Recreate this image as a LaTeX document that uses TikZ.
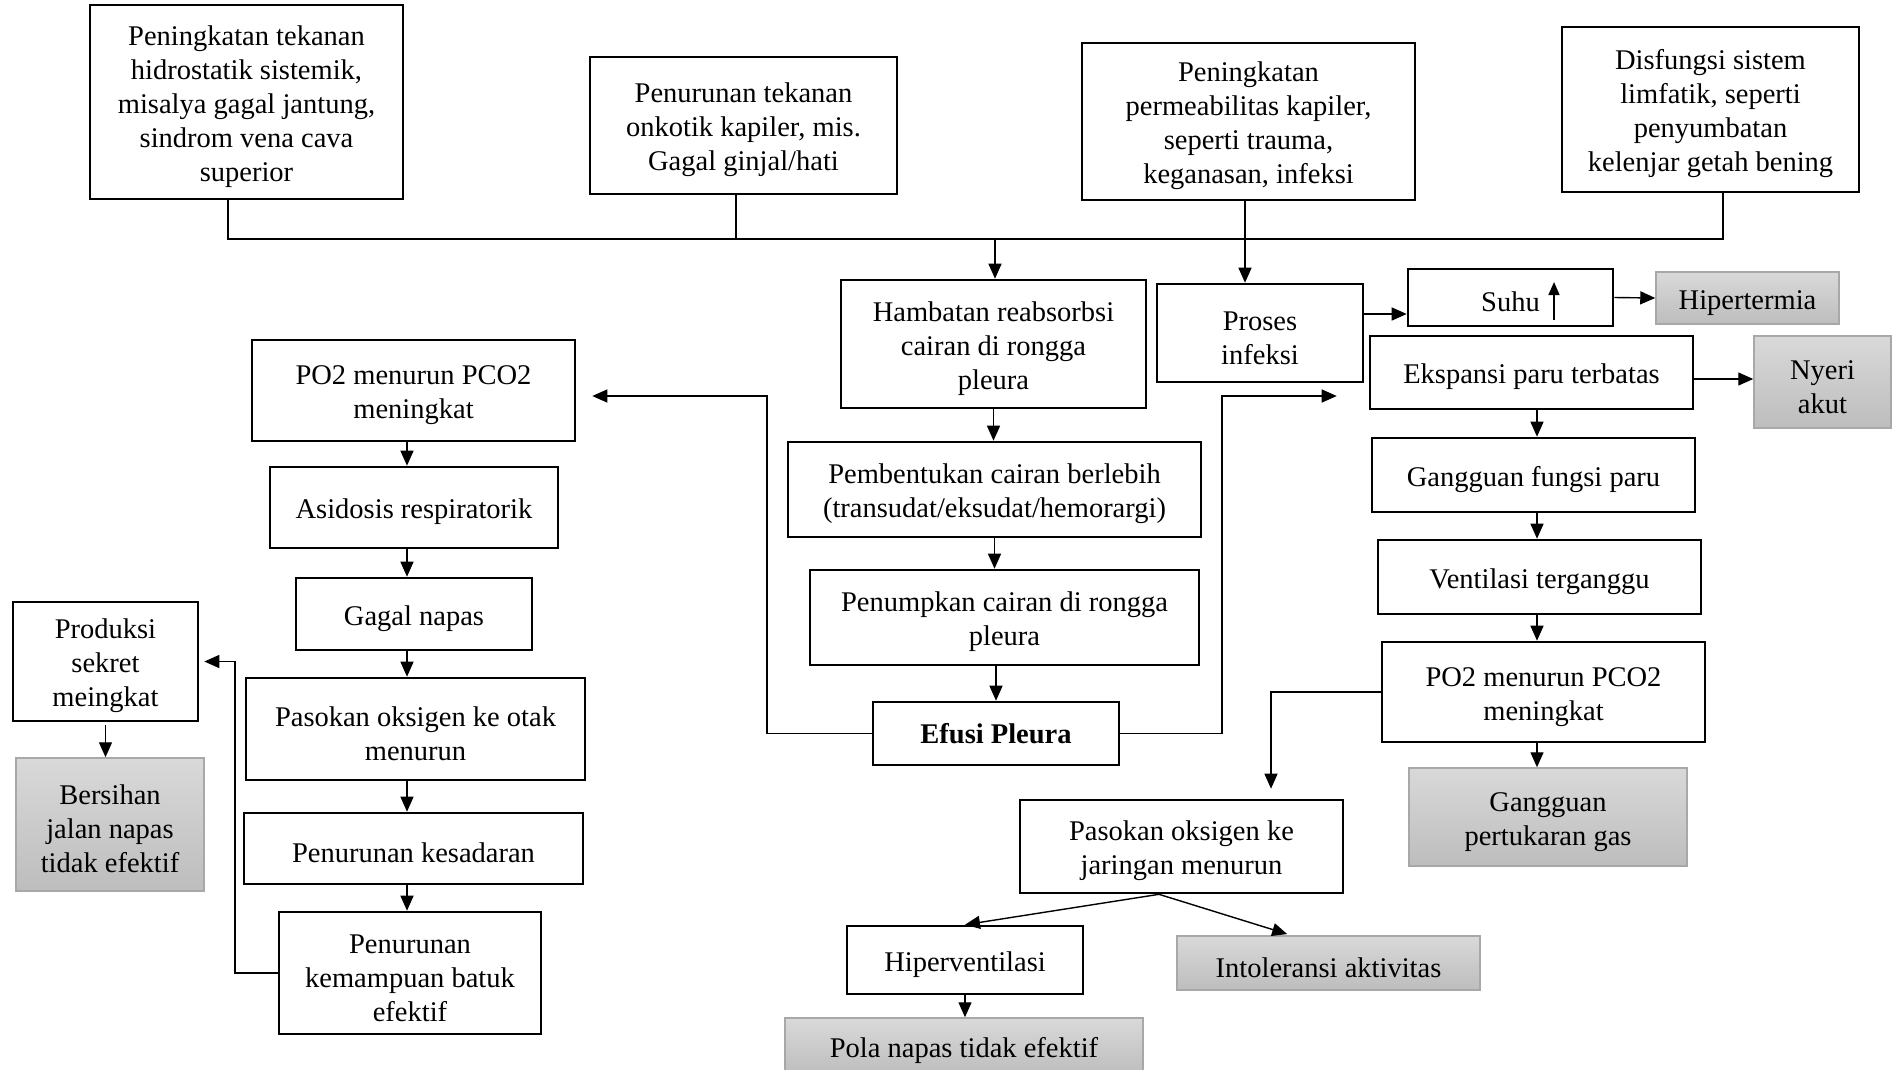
\documentclass[tikz,border=0pt]{standalone}
\usepackage{fontspec}
\setmainfont{Liberation Serif}
\usetikzlibrary{arrows.meta}
\definecolor{gtop}{HTML}{D9D9D9}
\definecolor{gbot}{HTML}{BDBDBD}
\definecolor{gbrd}{HTML}{A8A8A8}
\newcommand{\Tst}{\rule{0pt}{28.5pt}}
\begin{document}
\begin{tikzpicture}[x=1pt,y=-1pt,
  every node/.style={font=\fontsize{28.5}{34}\selectfont},
  box/.style={draw=black, line width=2.6pt, inner sep=0pt, align=center, fill=white},
  gbox/.style={draw=gbrd, line width=1.5pt, inner sep=0pt, align=center, top color=gtop, bottom color=gbot},
  ln/.style={line width=1.4pt},
  arr/.style={line width=1.4pt, -{Triangle[length=15pt,width=13pt]}}]
\useasboundingbox (0,0) rectangle (1892,1069);

% top causes
\node[box, minimum width=313pt, minimum height=194pt] (b1) at (246.5,102) {\Tst Peningkatan tekanan\\hidrostatik sistemik,\\misalya gagal jantung,\\sindrom vena cava\\superior};
\node[box, minimum width=307pt, minimum height=137pt] (b2) at (743.5,125.5) {\Tst Penurunan tekanan\\onkotik kapiler, mis.\\Gagal ginjal/hati};
\node[box, minimum width=333pt, minimum height=157pt] (b3) at (1248.5,121.5) {\Tst Peningkatan\\permeabilitas kapiler,\\seperti trauma,\\keganasan, infeksi};
\node[box, minimum width=297pt, minimum height=165pt] (b4) at (1710.5,109.5) {\Tst Disfungsi sistem\\limfatik, seperti\\penyumbatan\\kelenjar getah bening};

% center column
\node[box, minimum width=305pt, minimum height=128pt] (hamb) at (993.5,344) {\Tst Hambatan reabsorbsi\\cairan di rongga\\pleura};
\node[box, minimum width=413pt, minimum height=95pt] (pemb) at (994.5,489.5) {\Tst Pembentukan cairan berlebih\\(transudat/eksudat/hemorargi)};
\node[box, minimum width=389pt, minimum height=95pt] (penum) at (1004.5,617.5) {\Tst Penumpkan cairan di rongga\\pleura};
\node[box, minimum width=246pt, minimum height=63pt] (efusi) at (996,733.5) {\textbf{Efusi Pleura}};

% right column
\node[box, minimum width=206pt, minimum height=98pt] (proses) at (1260,333) {\Tst Proses\\infeksi};
\node[box, minimum width=205pt, minimum height=57pt] (suhu) at (1510.5,297.5) {\Tst Suhu};
\node[gbox, minimum width=183pt, minimum height=52pt] (hiper) at (1747.5,298) {\Tst Hipertermia};
\node[box, minimum width=323pt, minimum height=73pt] (eksp) at (1531.5,372.5) {\Tst Ekspansi paru terbatas};
\node[gbox, minimum width=137pt, minimum height=92pt] (nyeri) at (1822.5,382) {\Tst Nyeri\\akut};
\node[box, minimum width=323pt, minimum height=74pt] (gfp) at (1533.5,475) {\Tst Gangguan fungsi paru};
\node[box, minimum width=323pt, minimum height=74pt] (vent) at (1539.5,577) {\Tst Ventilasi terganggu};
\node[box, minimum width=323pt, minimum height=100pt] (po2R) at (1543.5,692) {\Tst PO2 menurun PCO2\\meningkat};
\node[gbox, minimum width=278pt, minimum height=98pt] (gpg) at (1548,817) {\Tst Gangguan\\pertukaran gas};
\node[box, minimum width=323pt, minimum height=93pt] (jar) at (1181.5,846.5) {\Tst Pasokan oksigen ke\\jaringan menurun};
\node[box, minimum width=236pt, minimum height=68pt] (hvent) at (965,960) {\Tst Hiperventilasi};
\node[gbox, minimum width=303pt, minimum height=54pt] (intol) at (1328.5,963) {\Tst Intoleransi aktivitas};
\node[gbox, minimum width=358pt, minimum height=57pt] (pola) at (964,1046.5) {\Tst Pola napas tidak efektif};

% left column
\node[box, minimum width=323pt, minimum height=101pt] (po2L) at (413.5,390.5) {\Tst PO2 menurun PCO2\\meningkat};
\node[box, minimum width=288pt, minimum height=81pt] (asid) at (414,507.5) {\Tst Asidosis respiratorik};
\node[box, minimum width=236pt, minimum height=72pt] (gagal) at (414,614) {\Tst Gagal napas};
\node[box, minimum width=339pt, minimum height=102pt] (otak) at (415.5,729) {\Tst Pasokan oksigen ke otak\\menurun};
\node[box, minimum width=339pt, minimum height=71pt] (kesad) at (413.5,848.5) {\Tst Penurunan kesadaran};
\node[box, minimum width=262pt, minimum height=122pt] (batuk) at (410,973) {\Tst Penurunan\\kemampuan batuk\\efektif};
\node[box, minimum width=185pt, minimum height=119pt] (sekret) at (105.5,661.5) {\Tst Produksi\\sekret\\meingkat};
\node[gbox, minimum width=188pt, minimum height=133pt] (bersih) at (110,824.5) {\Tst Bersihan\\jalan napas\\tidak efektif};

% helper coordinates
\coordinate (busL) at (228,239);
\coordinate (busR) at (1723,239);
\coordinate (busA) at (736,239);
\coordinate (busH) at (995,239);
\coordinate (x3) at (1245,0);
\coordinate (y314) at (0,314);
\coordinate (y379) at (0,379);
\coordinate (xL) at (767,396);
\coordinate (xR) at (1222,396);
\coordinate (xc) at (407,0);
\coordinate (xB) at (235,0);
\coordinate (xr) at (1537,0);
\coordinate (xJ) at (1271,0);
\coordinate (xI) at (1291,0);
\coordinate (jb) at ([xshift=-22.5pt]jar.south);

% bus
\draw[ln] (b1.south -| busL) -- (busL) -- (busR) -- (b4.south -| busR);
\draw[ln] (b2.south -| busA) -- (busA);
\draw[arr] (busH) -- (hamb.north -| busH);
\draw[arr] (b3.south -| x3) -- (proses.north -| x3);

% suhu arrow glyph
\draw[line width=1.4pt, -{Triangle[length=13pt,width=11pt]}] ([xshift=43.5pt,yshift=-22.5pt]suhu.center) -- ++(0,-38);

% right top
\draw[arr] (proses.east |- y314) -- (suhu.west |- y314);
\draw[arr] (suhu.east) -- (hiper.west);
\draw[arr] (eksp.east |- y379) -- (nyeri.west |- y379);

% center chain
\draw[arr] (hamb.south) -- (pemb.north -| hamb.south);
\draw[arr] (pemb.south) -- (penum.north -| pemb.south);
\draw[arr] (penum.south -| efusi.north) -- (efusi.north);
\draw[arr, shorten >=16pt] (efusi.west) -| (xL) -- (po2L.east |- xL);
\draw[arr, shorten >=32pt] (efusi.east) -| (xR) -- (eksp.west |- xR);

% left chain
\draw[arr] (po2L.south -| xc) -- (asid.north -| xc);
\draw[arr] (asid.south -| xc) -- (gagal.north -| xc);
\draw[arr] (gagal.south -| xc) -- (otak.north -| xc);
\draw[arr] (otak.south -| xc) -- (kesad.north -| xc);
\draw[arr] (kesad.south -| xc) -- (batuk.north -| xc);
\draw[arr, shorten >=5pt] (batuk.west) -- (batuk.west -| xB) |- (sekret.east);
\draw[arr, shorten <=3pt] (sekret.south) -- (bersih.north -| sekret.south);

% right chain
\draw[arr] (eksp.south -| xr) -- (gfp.north -| xr);
\draw[arr] (gfp.south -| xr) -- (vent.north -| xr);
\draw[arr] (vent.south -| xr) -- (po2R.north -| xr);
\draw[arr] (po2R.south -| xr) -- (gpg.north -| xr);
\draw[arr, shorten >=10pt] (po2R.west) -| (xJ |- jar.north);
\draw[arr] (jb) -- (hvent.north);
\draw[arr, shorten >=4pt] (jb) -- (intol.north -| xI);
\draw[arr] (hvent.south) -- (pola.north -| hvent.south);
\end{tikzpicture}
\end{document}
